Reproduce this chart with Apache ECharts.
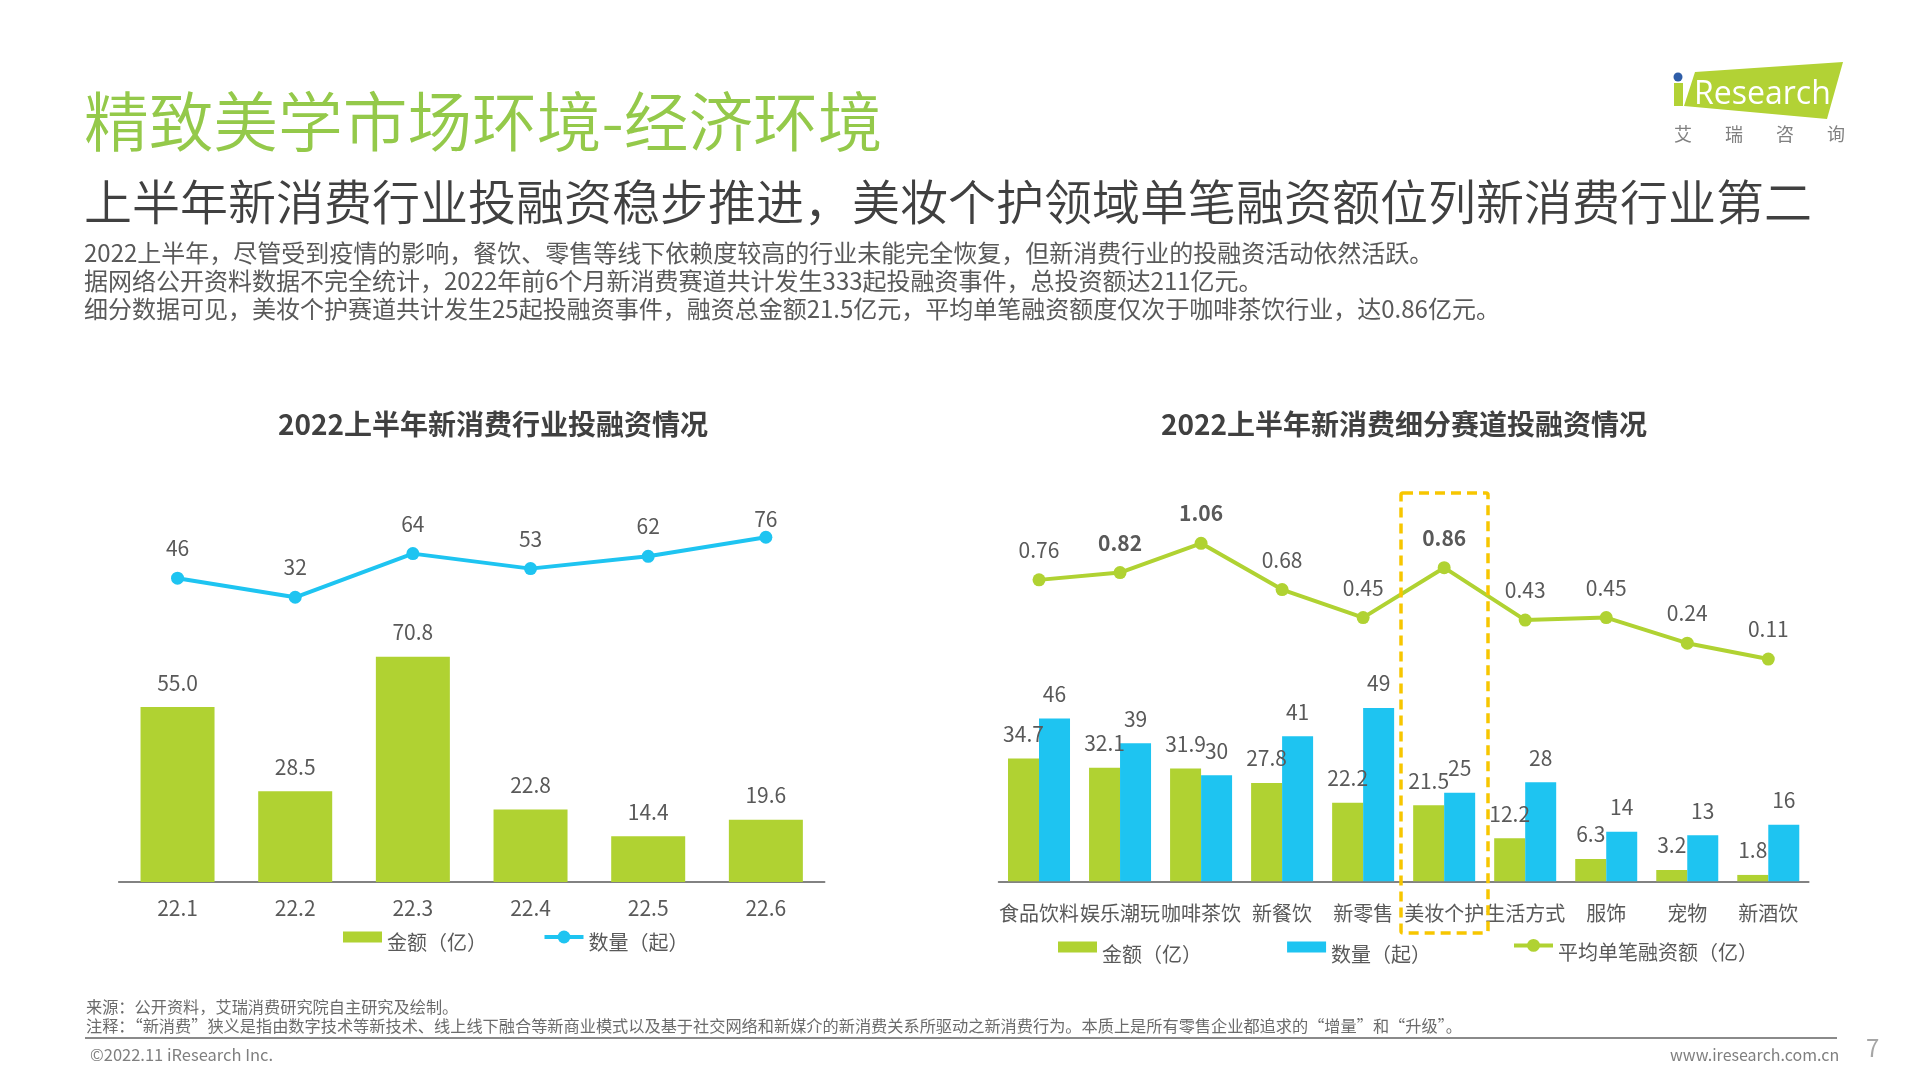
<!DOCTYPE html>
<html lang="zh-CN">
<head>
<meta charset="utf-8">
<title>精致美学市场环境-经济环境</title>
<script src="https://cdn.jsdelivr.net/npm/echarts@6/dist/echarts.min.js"></script>
<style>
html, body { margin: 0; padding: 0; background: #fff; }
body { position: relative; width: 1920px; height: 1080px; overflow: hidden; font-family: "Noto Sans CJK SC", sans-serif; }
#chart { position: absolute; left: 0; top: 0; width: 1920px; height: 1080px; }
.t { position: absolute; white-space: nowrap; z-index: 2; }
#mainTitle { left: 84px; top: 74px; font-size: 64.7px; line-height: 88px; color: #94c94a; font-weight: 350; }
#subTitle { left: 84px; top: 165px; font-size: 48px; line-height: 68px; color: #404040; font-weight: 350; }
.body { left: 84px; font-size: 24px; line-height: 28px; color: #595959; font-weight: 400; }
.foot { left: 86px; font-size: 16.2px; line-height: 20px; color: #6b6b6b; font-weight: 400; }
#rule { position: absolute; left: 85px; top: 1037px; width: 1752px; height: 2px; background: #8a8a8a; }
#logo { position: absolute; left: 1660px; top: 50px; z-index: 2; }
</style>
</head>
<body>
<div id="chart"></div>
<div class="t" id="mainTitle">精致美学市场环境-经济环境</div>
<div class="t" id="subTitle">上半年新消费行业投融资稳步推进&#xFF0C;美妆个护领域单笔融资额位列新消费行业第二</div>
<div class="t body" style="top:238px">2022上半年&#xFF0C;尽管受到疫情的影响&#xFF0C;餐饮、零售等线下依赖度较高的行业未能完全恢复&#xFF0C;但新消费行业的投融资活动依然活跃。</div>
<div class="t body" style="top:266px">据网络公开资料数据不完全统计&#xFF0C;2022年前6个月新消费赛道共计发生333起投融资事件&#xFF0C;总投资额达211亿元。</div>
<div class="t body" style="top:294px">细分数据可见&#xFF0C;美妆个护赛道共计发生25起投融资事件&#xFF0C;融资总金额21.5亿元&#xFF0C;平均单笔融资额度仅次于咖啡茶饮行业&#xFF0C;达0.86亿元。</div>
<div class="t foot" style="top:996px">来源&#xFF1A;公开资料&#xFF0C;艾瑞消费研究院自主研究及绘制。</div>
<div class="t foot" style="top:1015px">注释&#xFF1A;“新消费”狭义是指由数字技术等新技术、线上线下融合等新商业模式以及基于社交网络和新媒介的新消费关系所驱动之新消费行为。本质上是所有零售企业都追求的“增量”和“升级”。</div>
<div id="rule"></div>
<div class="t" style="left:90px;top:1044px;font-size:16.5px;line-height:20px;color:#7f7f7f">©2022.11 iResearch Inc.</div>
<div class="t" style="left:1670px;top:1044px;font-size:16px;line-height:20px;color:#7f7f7f">www.iresearch.com.cn</div>
<div class="t" style="left:1866px;top:1030px;font-size:24px;line-height:34px;color:#a6a6a6">7</div>
<svg id="logo" width="220" height="110" viewBox="0 0 220 110">
  <polygon points="35,22 183,12 167,69 24,56" fill="#b2d235"/>
  <rect x="14" y="33" width="9" height="23" fill="#b2d235"/>
  <circle cx="18" cy="27" r="4.5" fill="#2f5da8"/>
  <text x="34" y="54" font-family="'Open Sans', sans-serif" font-size="32" fill="#fff">Research</text>
  <g font-size="18" fill="#808080" text-anchor="middle" font-family="'Noto Sans CJK SC'">
    <text x="23" y="91">艾</text><text x="74" y="91">瑞</text><text x="125" y="91">咨</text><text x="176" y="91">询</text>
  </g>
</svg>
<script>
// 左图:行业投融资
const months = ['22.1', '22.2', '22.3', '22.4', '22.5', '22.6'];
const monthAmount = [55.0, 28.5, 70.8, 22.8, 14.4, 19.6];
const monthCount = [46, 32, 64, 53, 62, 76];
const closeCountLabels = ['22.6'];

// 右图:细分赛道
const tracks = ['食品饮料', '娱乐潮玩', '咖啡茶饮', '新餐饮', '新零售', '美妆个护', '生活方式', '服饰', '宠物', '新酒饮'];
const trackAmount = [34.7, 32.1, 31.9, 27.8, 22.2, 21.5, 12.2, 6.3, 3.2, 1.8];
const trackCount = [46, 39, 30, 41, 49, 25, 28, 14, 13, 16];
const trackAverage = [0.76, 0.82, 1.06, 0.68, 0.45, 0.86, 0.43, 0.45, 0.24, 0.11];
const boldAverage = ['娱乐潮玩', '咖啡茶饮', '美妆个护'];

// 图例名称(全角括号)
const AMOUNT_NAME = '金额\uFF08亿\uFF09';
const COUNT_NAME = '数量\uFF08起\uFF09';
const AVERAGE_NAME = '平均单笔融资额\uFF08亿\uFF09';

const GREEN = '#b0d232';
const BLUE = '#1ec4f1';
const TEXT = '#595959';
const FONT = '"Noto Sans CJK SC", sans-serif';
// 图例色块:上下留空,和折线图例的圆点共用一个高度
const RECT_ICON = 'path://M0,0L0,0M0,2.5H39V13.5H0ZM0,16L0,16';

function barLabel(digits) {
    return {
        show: true, position: 'top', distance: 14, color: TEXT, fontSize: 21, fontFamily: FONT,
        formatter: p => digits === undefined ? p.value : p.value.toFixed(digits)
    };
}

function lineSeries(name, data, color, xAxisIndex, yAxisIndex, digits) {
    return {
        name, type: 'line', data, xAxisIndex, yAxisIndex, symbol: 'circle', symbolSize: 13,
        lineStyle: { color, width: 4 }, itemStyle: { color }, z: 3,
        label: { ...barLabel(digits), distance: 13 }
    };
}

function categoryAxis(gridIndex, data, margin, fontSize) {
    return {
        type: 'category', gridIndex, data,
        axisLine: { lineStyle: { color: '#595959', width: 1.5 } },
        axisTick: { show: false },
        axisLabel: { interval: 0, margin, color: TEXT, fontSize, fontFamily: FONT }
    };
}

function hiddenAxis(gridIndex, min, max) {
    return { type: 'value', gridIndex, min, max, show: false, splitLine: { show: false } };
}

// 图例文字比色块略低,用 rich 的上边距下移
function legend(left, top, itemGap, shift, data) {
    return {
        left, top, padding: 0, itemWidth: 39, itemHeight: 16, itemGap, lineStyle: { width: 4 }, data,
        formatter: name => `{t|${name}}`,
        textStyle: { rich: { t: { color: TEXT, fontSize: 20, fontFamily: FONT, padding: [shift, 0, 0, 0] } } }
    };
}

const chart = echarts.init(document.getElementById('chart'));
chart.setOption({
    animation: false,
    title: [
        { text: '2022上半年新消费行业投融资情况', left: 488, top: 419, textAlign: 'center', textVerticalAlign: 'middle',
          textStyle: { color: '#404040', fontSize: 28, fontWeight: 'bold', fontFamily: FONT } },
        { text: '2022上半年新消费细分赛道投融资情况', left: 1399, top: 419, textAlign: 'center', textVerticalAlign: 'middle',
          textStyle: { color: '#404040', fontSize: 28, fontWeight: 'bold', fontFamily: FONT } }
    ],
    grid: [
        { left: 118.7, top: 500, width: 706, height: 382 },
        { left: 998.5, top: 480, width: 810.3, height: 401.3 }
    ],
    xAxis: [categoryAxis(0, months, 16, 21), categoryAxis(1, tracks, 22, 20)],
    yAxis: [
        hiddenAxis(0, 0, 120.1),
        hiddenAxis(0, -176.7, 103.3),
        hiddenAxis(1, 0, 113.4),
        hiddenAxis(1, -1.715, 1.58)
    ],
    legend: [
        legend(343, 929, 55.5, 10, [{ name: AMOUNT_NAME, icon: RECT_ICON }, { name: COUNT_NAME }]),
        legend(1058, 939, 80.6, 15, [{ name: AMOUNT_NAME + ' ', icon: RECT_ICON }, { name: COUNT_NAME + ' ', icon: RECT_ICON }]),
        legend(1512, 939, 0, 15, [{ name: AVERAGE_NAME }])
    ],
    series: [
        { name: AMOUNT_NAME, type: 'bar', data: monthAmount, xAxisIndex: 0, yAxisIndex: 0, barWidth: 74,
          itemStyle: { color: GREEN }, label: barLabel(1) },
        lineSeries(COUNT_NAME, monthCount.map((v, i) => closeCountLabels.includes(months[i])
            ? { value: v, label: { distance: 1 } } : v), BLUE, 0, 1),
        { name: AMOUNT_NAME + ' ', type: 'bar', data: trackAmount, xAxisIndex: 1, yAxisIndex: 2, barWidth: 31, barGap: 0,
          itemStyle: { color: GREEN }, label: barLabel(1) },
        { name: COUNT_NAME + ' ', type: 'bar', data: trackCount, xAxisIndex: 1, yAxisIndex: 2, barWidth: 31, barGap: 0,
          itemStyle: { color: BLUE }, label: barLabel() },
        lineSeries(AVERAGE_NAME, trackAverage.map((v, i) => boldAverage.includes(tracks[i])
            ? { value: v, label: { fontWeight: 'bold' } } : v), GREEN, 1, 3, 2)
    ],
    // 美妆个护高亮框
    graphic: [{
        type: 'rect', z: 100, silent: true,
        shape: { x: 1401, y: 493, width: 87, height: 440, r: 2 },
        style: { fill: 'none', stroke: '#f7c600', lineWidth: 3.5, lineDash: [10, 6] }
    }]
});
</script>
</body>
</html>
